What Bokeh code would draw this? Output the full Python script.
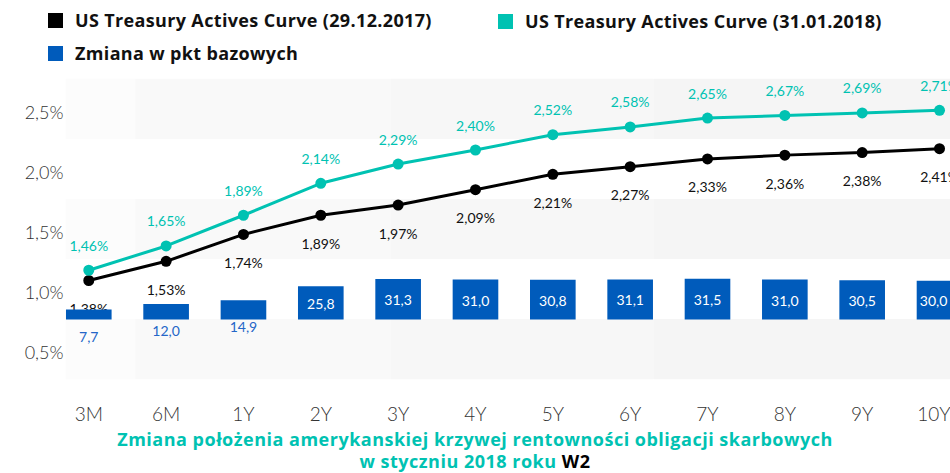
from bokeh.plotting import figure
from bokeh.models import Range1d, FixedTicker, ColumnDataSource, Div
from bokeh.layouts import column
from bokeh.core.properties import value
from bokeh.embed import file_html
from bokeh.resources import INLINE

# ---- data ----
tenors = ["3M", "6M", "1Y", "2Y", "3Y", "4Y", "5Y", "6Y", "7Y", "8Y", "9Y", "10Y"]
curve_2017 = [1.38, 1.53, 1.74, 1.89, 1.97, 2.09, 2.21, 2.27, 2.33, 2.36, 2.38, 2.41]
curve_2018 = [1.46, 1.65, 1.89, 2.14, 2.29, 2.40, 2.52, 2.58, 2.65, 2.67, 2.69, 2.71]
change_bp = [7.7, 12.0, 14.9, 25.8, 31.3, 31.0, 30.8, 31.1, 31.5, 31.0, 30.5, 30.0]
y_ticks = [0.5, 1.0, 1.5, 2.0, 2.5]
y_tick_labels = ["0,5%", "1,0%", "1,5%", "2,0%", "2,5%"]
legend_labels = ["US Treasury Actives Curve (29.12.2017)",
                 "US Treasury Actives Curve (31.01.2018)",
                 "Zmiana w pkt bazowych"]
title_line1 = "Zmiana położenia amerykanskiej krzywej rentowności obligacji skarbowych"
title_line2 = "w styczniu 2018 roku"
title_tag = "W2"

BLACK = "#000000"
TEAL = "#00C2B2"
BLUE = "#005BBB"
FONT = "Lato"
LIGHT = "Lato Light"
HEAD = "Open Sans"

idx = list(range(len(tenors)))
X_START, X_END = -0.301, 11.142
BAR_W = 0.59

# ---- header legend ----
legend_colors = [BLACK, TEAL, BLUE]
legend_pos = [(48, 13), (498, 14), (48, 46)]  # square left/top
items = []
for lab, col, (lx, ty) in zip(legend_labels, legend_colors, legend_pos):
    items.append(
        f'<div style="position:absolute;left:{lx}px;top:{ty}px;width:15px;height:15px;background:{col}"></div>'
        f'<div style="position:absolute;left:{lx + 27}px;top:{ty - 4}px;line-height:22px;white-space:nowrap">{lab}</div>'
    )
header = Div(text=(f'<div style="position:relative;width:950px;height:70px;font-family:\'{HEAD}\';'
                   'font-weight:bold;font-size:18px;letter-spacing:0.35px;color:#111111">'
                   + "".join(items) + '</div>'),
             width=950, height=70, margin=0)

# ---- figure ----
p = figure(width=950, height=358,
           x_range=Range1d(X_START, X_END), y_range=Range1d(0.275, 2.783),
           output_backend="svg", toolbar_location=None,
           min_border_left=65, min_border_right=0, min_border_top=8, min_border_bottom=49)
p.extra_y_ranges = {
    "lines": Range1d(0.606, 2.959),
    "bars": Range1d(-46.5, 186.8),
    "bg": Range1d(379, 78),
}
p.outline_line_color = None
p.xgrid.visible = False
p.ygrid.visible = False
p.background_fill_color = "white"
p.border_fill_color = "white"

# background bands (decoration)
band_rows = [(78, 138.5), (198.5, 258.5), (318.5, 379)]
seg_edges = [X_START, 0.6, 3.9, 7.3, X_END]
seg_colors = ["#fcfcfc", "#f9f9f9", "#f7f7f7", "#f5f5f5"]
bl, br, bt, bb, bc = [], [], [], [], []
for top, bot in band_rows:
    for i, c in enumerate(seg_colors):
        bl.append(seg_edges[i]); br.append(seg_edges[i + 1])
        bt.append(top); bb.append(bot); bc.append(c)
p.quad(left=bl, right=br, top=bt, bottom=bb, fill_color=bc, line_color=None, y_range_name="bg")

# lines
src = ColumnDataSource(dict(
    x=idx, y17=curve_2017, y18=curve_2018,
    l17=[f"{v:.2f}".replace(".", ",") + "%" for v in curve_2017],
    l18=[f"{v:.2f}".replace(".", ",") + "%" for v in curve_2018],
))
p.line("x", "y17", source=src, y_range_name="lines", line_color=BLACK, line_width=3)
p.scatter("x", "y17", source=src, y_range_name="lines", size=11, fill_color=BLACK, line_color=None)
p.line("x", "y18", source=src, y_range_name="lines", line_color=TEAL, line_width=3)
p.scatter("x", "y18", source=src, y_range_name="lines", size=11, fill_color=TEAL, line_color=None)
p.text("x", "y17", text="l17", source=src, y_range_name="lines", y_offset=28,
       text_align="center", text_baseline="middle", text_font=value(FONT),
       text_font_size="14px", text_color="#111111")
p.text("x", "y18", text="l18", source=src, y_range_name="lines", y_offset=-25,
       text_align="center", text_baseline="middle", text_font=value(FONT),
       text_font_size="14px", text_color=TEAL)

# bars
bsrc = ColumnDataSource(dict(x=idx, v=change_bp))
p.vbar(x="x", top="v", bottom=0, width=BAR_W, source=bsrc, y_range_name="bars",
       fill_color=BLUE, line_color=None)

# bar labels: centred on the visible part of each bar
lab = [f"{v:.1f}".replace(".", ",") for v in change_bp]
vis_x = [(max(x - BAR_W / 2, X_START) + min(x + BAR_W / 2, X_END)) / 2 for x in idx]
inside = [i for i, v in enumerate(change_bp) if v > 20]
outside = [i for i, v in enumerate(change_bp) if v <= 20]
isrc = ColumnDataSource(dict(x=[vis_x[i] for i in inside], y=[change_bp[i] / 2 for i in inside],
                             t=[lab[i] for i in inside]))
osrc = ColumnDataSource(dict(x=[vis_x[i] for i in outside], y=[change_bp[i] for i in outside],
                             t=[lab[i] for i in outside]))
p.text("x", "y", text="t", source=isrc, y_range_name="bars", y_offset=1,
       text_align="center", text_baseline="middle", text_font=value(FONT),
       text_font_size="14px", text_color="white")
p.text("x", "y", text="t", source=osrc, y_range_name="bars", y_offset=27,
       text_align="center", text_baseline="middle", text_font=value(FONT),
       text_font_size="14px", text_color="#2466C8")

# axes
p.xaxis.ticker = FixedTicker(ticks=idx)
p.xaxis.major_label_overrides = {i: t for i, t in zip(idx, tenors)}
p.yaxis.ticker = FixedTicker(ticks=y_ticks)
p.yaxis.major_label_overrides = {t: l for t, l in zip(y_ticks, y_tick_labels)}
for ax in (p.xaxis, p.yaxis):
    ax.axis_line_color = None
    ax.major_tick_line_color = None
    ax.minor_tick_line_color = None
    ax.major_tick_out = 0
    ax.major_tick_in = 0
    ax.major_label_text_font = LIGHT
    ax.major_label_text_color = "#333333"
p.xaxis.major_label_text_font_size = "19px"
p.xaxis.major_label_standoff = 22
p.yaxis.major_label_text_font_size = "18px"
p.yaxis.major_label_standoff = 2

# ---- caption ----
caption = Div(text=(f'<div style="width:950px;text-align:center;font-family:\'{HEAD}\';font-weight:bold;'
                    f'font-size:18px;letter-spacing:0.5px;line-height:22px;color:{TEAL}">'
                    f'{title_line1}<br>{title_line2} '
                    f'<span style="color:#000000">{title_tag}</span></div>'),
              width=950, height=45, margin=0)

layout = column(header, p, caption, spacing=0)
open("out.html", "w").write(file_html(layout, INLINE))
